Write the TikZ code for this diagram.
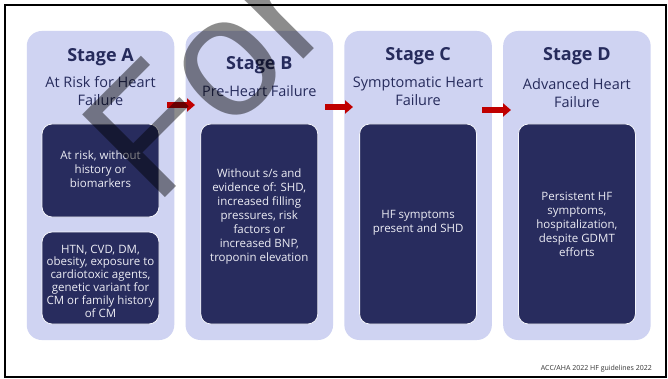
\documentclass[tikz,border=0pt]{standalone}
\usepackage{fontspec}
\setmainfont{Open Sans}
\newfontfamily\wmfont{Liberation Sans}
\usetikzlibrary{arrows.meta}
\definecolor{panelfill}{HTML}{CFD3F2}
\definecolor{navybox}{HTML}{282C5E}
\definecolor{navytext}{HTML}{262B5C}
\definecolor{bodytext}{HTML}{ECECF4}
\definecolor{flowred}{HTML}{C00000}
\tikzset{
  panel/.style={fill=panelfill, rounded corners=15pt, minimum width=147.5pt, inner sep=0pt},
  detail/.style={fill=navybox, draw=white!80!panelfill, line width=0.8pt, rounded corners=10pt, minimum width=117pt, inner sep=0pt},
  stagetitle/.style={text=navytext, font=\fontsize{18}{20}\selectfont\bfseries, anchor=base},
  subtitle/.style={text=navytext, font=\fontsize{14.5}{18.5}\selectfont, align=center, anchor=base},
  bodytxt/.style={text=bodytext, font=\fontsize{11.5}{14}\selectfont, align=center, inner sep=0pt},
  flow/.style={draw=flowred, line width=6pt, -{Triangle[length=8pt,width=13pt]}},
  wm/.style={text=black, text opacity=0.45, font=\wmfont\fontsize{170}{170}\selectfont, inner sep=0pt}
}
\begin{document}
\begin{tikzpicture}[x=1pt,y=-1pt]
\useasboundingbox (0,0) rectangle (668,379);
\clip (0,0) rectangle (668,379);
\fill[white] (0,0) rectangle (668,379);
\draw[line width=2pt] (5,5) rectangle (666,377);

% stage panels
\node[panel, minimum height=309pt] (pA) at (100.5,185.5) {};
\node[panel, minimum height=309pt] (pB) at (259.3,185.5) {};
\node[panel, minimum height=309pt] (pC) at (418.1,185.5) {};
\node[panel, minimum height=309pt] (pD) at (576.9,185.5) {};

% headings (a multi-line node sits on the baseline of its last line)
\node[stagetitle] (tA) at (100.5,62) {Stage A};
\node[stagetitle] (tB) at (259.3,70) {Stage B};
\node[stagetitle] (tC) at (418.1,61) {Stage C};
\node[stagetitle] (tD) at (576.9,61) {Stage D};
\node[subtitle] (sA) at (100.5,106) {At Risk for Heart\\Failure};
\node[subtitle] (sB) at (259.3,96.7) {Pre-Heart Failure};
\node[subtitle] (sC) at (418.1,106) {Symptomatic Heart\\Failure};
\node[subtitle] (sD) at (576.9,107.7) {Advanced Heart\\Failure};

% detail boxes
\node[detail, minimum height=93pt] (dA1) at (100.5,170.5) {};
\node[detail, minimum height=92pt] (dA2) at (100.5,278) {};
\node[detail, minimum height=200pt] (dB) at (259.3,224) {};
\node[detail, minimum height=200pt] (dC) at (418.1,224) {};
\node[detail, minimum height=200pt] (dD) at (576.9,224) {};

\node[bodytxt] (bA1) at (100.5,169.5) {At risk, without\\history or\\biomarkers};
\node[bodytxt, font=\fontsize{11.5}{12.8}\selectfont] (bA2) at (100.5,281) {HTN, CVD, DM,\\obesity, exposure to\\cardiotoxic agents,\\genetic variant for\\CM or family history\\of CM};
\node[bodytxt] (bB) at (259.3,216.5) {Without s/s and\\evidence of: SHD,\\increased filling\\pressures, risk\\factors or\\increased BNP,\\troponin elevation};
\node[bodytxt] (bC) at (418.1,223) {HF symptoms\\present and SHD};
\node[bodytxt] (bD) at (576.9,224) {Persistent HF\\symptoms,\\hospitalization,\\despite GDMT\\efforts};

% progression arrows
\coordinate (aAB) at (167,105);
\coordinate (aBA) at (195,105);
\coordinate (aBC) at (325,107);
\coordinate (aCB) at (353,107);
\coordinate (aCD) at (482,110);
\coordinate (aDC) at (511,110);
\draw[flow] (aAB) -- (aBA);
\draw[flow] (aBC) -- (aCB);
\draw[flow] (aCD) -- (aDC);

% source note
\node[anchor=base east, text=black!80, font=\fontsize{7}{8}\selectfont, inner sep=0pt] (note) at (652,370.5) {ACC/AHA 2022 HF guidelines 2022};

% watermark
\node[wm, rotate=45, anchor=base west] (wmark) at (155,208) {For};
\end{tikzpicture}
\end{document}
